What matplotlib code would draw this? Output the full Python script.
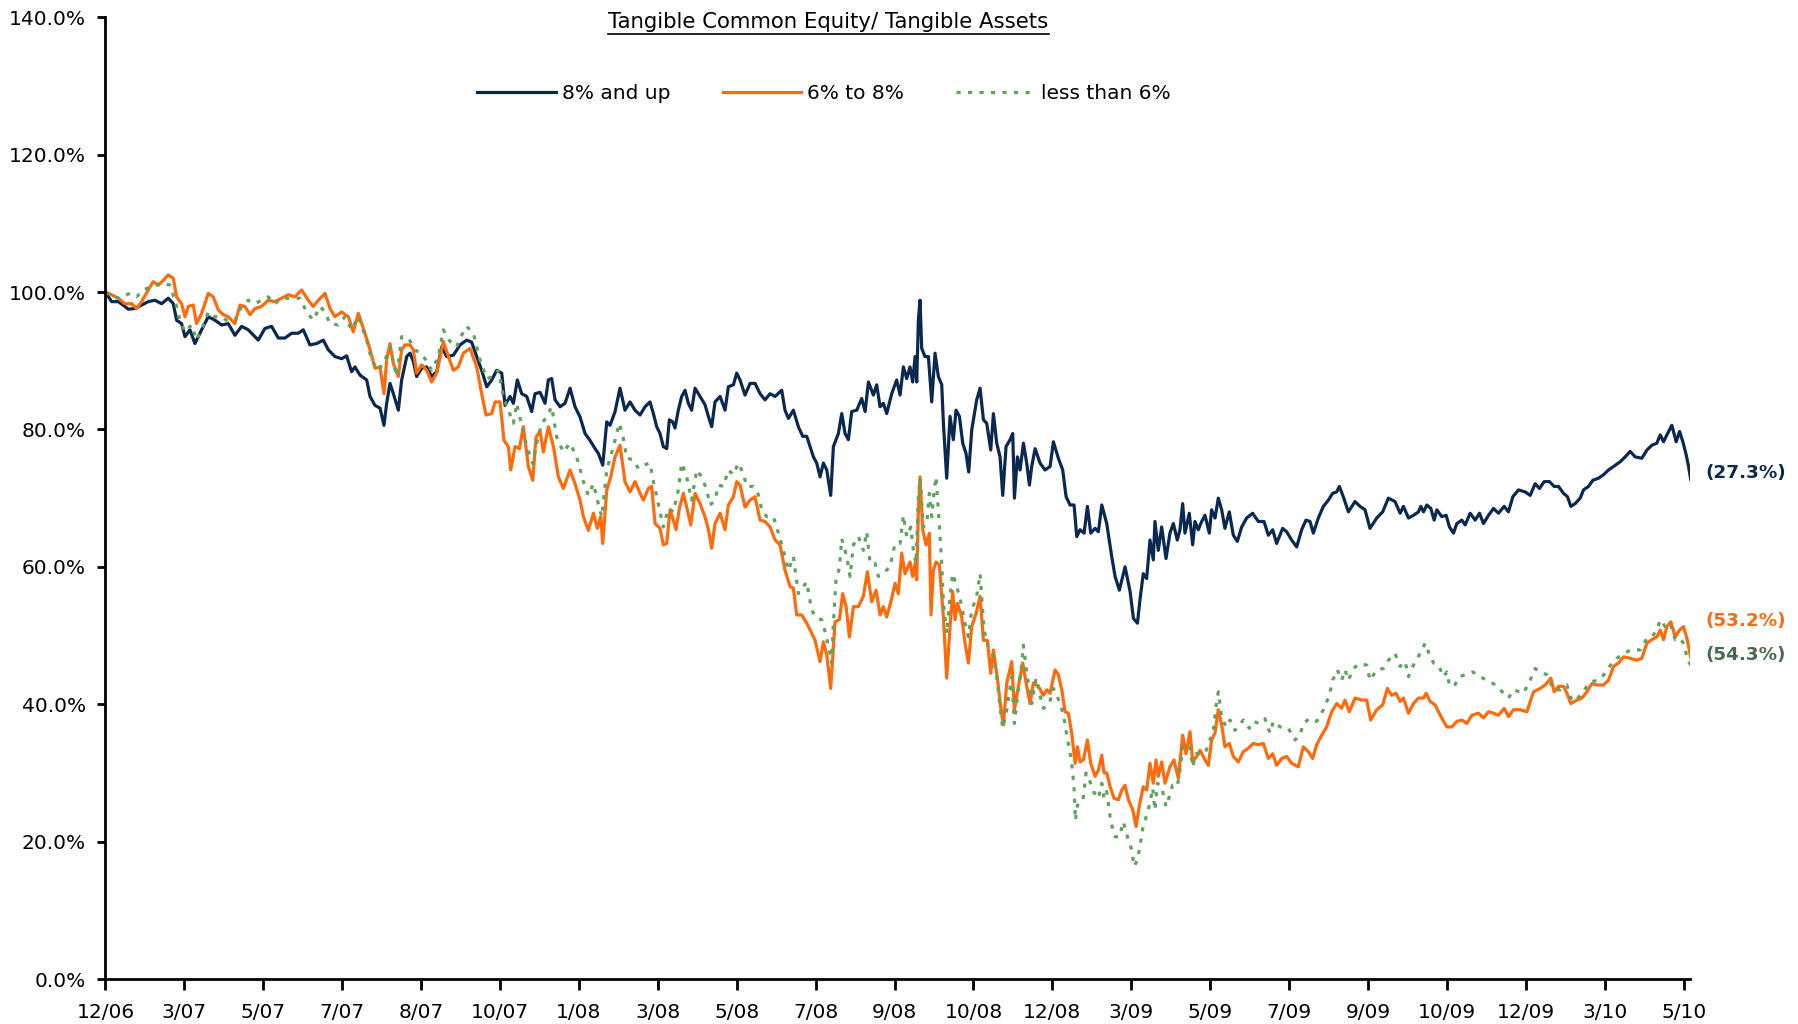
import matplotlib
matplotlib.use("Agg")
import matplotlib.pyplot as plt
from matplotlib.lines import Line2D

# x positions are in units of one axis period (12/06 = 0, 5/10 = 20)
periods = ["12/06", "3/07", "5/07", "7/07", "8/07", "10/07", "1/08", "3/08",
           "5/08", "7/08", "9/08", "10/08", "12/08", "3/09", "5/09", "7/09",
           "9/09", "10/09", "12/09", "3/10", "5/10"]

# 8% and up
t_hi = [0.000, 0.078, 0.163, 0.247, 0.289, 0.374, 0.458, 0.543, 0.627, 0.712,
        0.796, 0.860, 0.902, 0.965, 1.008, 1.071, 1.134, 1.219, 1.303, 1.388,
        1.472, 1.557, 1.641, 1.726, 1.810, 1.937, 2.021, 2.106, 2.191, 2.275,
        2.360, 2.444, 2.507, 2.592, 2.677, 2.761, 2.824, 2.909, 2.993, 3.057,
        3.120, 3.162,
        3.226, 3.311, 3.353, 3.416, 3.480, 3.530, 3.564, 3.606, 3.649, 3.712,
        3.754, 3.818, 3.860, 3.902, 3.944, 4.008, 4.071, 4.134, 4.198, 4.261,
        4.325, 4.409, 4.494, 4.578, 4.641, 4.705, 4.768, 4.832, 4.895, 4.958,
        5.022, 5.064, 5.127, 5.170, 5.220, 5.275, 5.339, 5.402, 5.444, 5.508,
        5.571, 5.613, 5.655, 5.698, 5.761, 5.824, 5.888, 5.951, 6.015, 6.078,
        6.141, 6.205, 6.247, 6.302, 6.353, 6.395, 6.458,
        6.521, 6.584, 6.648, 6.711, 6.775, 6.838, 6.901, 6.944, 6.986, 7.028,
        7.070, 7.113, 7.146, 7.189, 7.218, 7.260, 7.303, 7.345, 7.387, 7.429,
        7.472, 7.535, 7.598, 7.641, 7.683, 7.725, 7.789, 7.852, 7.894, 7.958,
        8.000, 8.042, 8.105, 8.169, 8.232, 8.296, 8.359, 8.422, 8.486, 8.570,
        8.612, 8.655, 8.718, 8.781, 8.836, 8.887, 8.929, 8.972, 9.014, 9.056,
        9.098, 9.141, 9.191, 9.225, 9.288, 9.331, 9.373, 9.415, 9.457, 9.521,
        9.584, 9.627, 9.669, 9.732, 9.774,
        9.816, 9.858, 9.901, 9.964, 10.027, 10.070, 10.112, 10.154, 10.196,
        10.230, 10.260, 10.281, 10.302, 10.323, 10.344, 10.386, 10.429, 10.471,
        10.513, 10.555, 10.598, 10.619, 10.661, 10.703, 10.745, 10.779, 10.822,
        10.864, 10.906, 10.940, 10.978, 11.041, 11.084, 11.126, 11.168, 11.219,
        11.253, 11.295, 11.337, 11.371, 11.413, 11.464, 11.498, 11.519, 11.557,
        11.591, 11.633, 11.675, 11.709, 11.738, 11.781, 11.844, 11.907, 11.971,
        12.013, 12.076, 12.131, 12.174, 12.224, 12.275, 12.309, 12.351, 12.402,
        12.444, 12.486, 12.541, 12.583, 12.626, 12.689, 12.752, 12.795, 12.849,
        12.921, 12.985, 13.027, 13.078,
        13.110, 13.152, 13.195, 13.237, 13.279, 13.300, 13.342, 13.385, 13.440,
        13.490, 13.533, 13.583, 13.617, 13.651, 13.680, 13.735, 13.778, 13.807,
        13.849, 13.892, 13.934, 13.989, 14.018, 14.061, 14.103, 14.145, 14.187,
        14.242, 14.293, 14.344, 14.399, 14.462, 14.538, 14.610, 14.682, 14.737,
        14.792, 14.842, 14.918, 14.969, 15.032, 15.096, 15.159, 15.214, 15.265,
        15.307, 15.370, 15.434, 15.497, 15.552, 15.603, 15.637, 15.687, 15.751,
        15.835, 15.899, 15.962, 16.025, 16.110, 16.186, 16.258, 16.342,
        16.407, 16.449, 16.513, 16.576, 16.639, 16.669, 16.703, 16.745, 16.796,
        16.838, 16.872, 16.935, 16.990, 17.032, 17.083, 17.125, 17.189, 17.231,
        17.294, 17.358, 17.413, 17.463, 17.527, 17.590, 17.653, 17.725, 17.780,
        17.835, 17.907, 17.991, 18.055, 18.118, 18.173, 18.232, 18.300, 18.359,
        18.414, 18.477, 18.528, 18.570, 18.625, 18.689, 18.731, 18.794, 18.849,
        18.921, 18.984, 19.048, 19.111, 19.196, 19.259, 19.322, 19.386, 19.470,
        19.534, 19.597, 19.660, 19.703, 19.745, 19.787, 19.850, 19.905, 19.948,
        19.990, 20.032, 20.062, 20.090]
v_hi = [100.0, 98.6, 98.6, 97.9, 97.5, 97.6, 98.1, 98.6, 98.8, 98.3,
        99.1, 98.3, 95.9, 95.4, 93.5, 94.5, 92.5, 94.5, 96.4, 95.9,
        95.2, 95.4, 93.7, 95.0, 94.5, 93.0, 94.7, 95.0, 93.3, 93.3,
        94.0, 94.0, 94.5, 92.3, 92.5, 93.0, 91.6, 90.6, 90.3, 90.7,
        88.4, 89.1,
        87.9, 87.2, 84.8, 83.5, 83.1, 80.6, 83.8, 86.7, 85.2, 82.8,
        87.2, 90.6, 91.1, 89.9, 87.7, 88.9, 89.1, 87.7, 88.4, 92.0,
        90.6, 90.8, 92.3, 93.0, 92.7, 90.6, 88.6, 86.2, 87.2, 88.6,
        88.2, 83.5, 84.8, 83.8, 87.2, 85.2, 84.8, 82.6, 85.2, 85.4,
        83.8, 87.2, 87.4, 84.3, 83.3, 83.8, 86.0, 83.3, 81.8, 79.4,
        78.4, 77.2, 76.5, 74.8, 81.1, 80.6, 82.6,
        86.0, 82.8, 84.0, 82.8, 82.1, 83.3, 84.0, 82.3, 80.4, 79.4,
        77.5, 77.2, 81.4, 81.1, 80.2, 82.8, 84.8, 85.7, 83.8, 82.8,
        86.0, 84.8, 83.6, 81.9, 80.4, 84.0, 84.8, 82.8, 86.2, 86.5,
        88.2, 87.2, 85.0, 86.7, 86.7, 85.2, 84.3, 85.2, 84.8, 85.7,
        82.8, 81.6, 82.8, 80.4, 79.0, 79.0, 77.5, 76.0, 75.1, 73.1,
        75.1, 74.1, 70.4, 77.5, 79.4, 82.3, 79.4, 78.5, 82.6, 82.8,
        84.5, 82.6, 86.9, 85.0, 86.5,
        83.3, 83.8, 82.3, 85.2, 87.2, 85.0, 89.1, 87.4, 89.1,
        86.9, 90.6, 86.9, 95.9, 98.8, 91.8, 90.6, 90.6, 84.0,
        91.1, 87.7, 86.5, 80.9, 72.9, 81.9, 78.5, 82.8, 81.9,
        78.0, 76.5, 73.8, 79.9, 84.3, 86.0, 81.4, 80.9, 77.0,
        82.3, 78.0, 76.0, 70.4, 77.5, 78.5, 79.4, 70.0, 76.0,
        74.1, 78.0, 75.1, 71.9, 74.6, 77.2, 75.1, 74.1, 74.6,
        78.2, 75.8, 74.1, 70.2, 69.0, 69.0, 64.4, 65.4, 64.9,
        68.8, 64.9, 65.6, 65.1, 69.0, 66.3, 61.5, 58.6, 56.6,
        60.0, 56.4, 52.5, 51.8,
        55.2, 59.0, 58.3, 63.9, 61.0, 66.6, 62.4, 65.8, 61.2,
        64.9, 66.3, 63.9, 65.4, 69.2, 64.9, 67.8, 63.2, 66.6,
        65.4, 66.6, 67.5, 64.9, 68.3, 67.1, 70.0, 68.3, 65.6,
        68.0, 64.6, 63.7, 65.8, 67.1, 67.8, 66.6, 66.6, 64.6,
        65.4, 63.4, 65.6, 65.1, 63.9, 62.9, 65.4, 66.8, 66.6,
        64.9, 67.1, 68.8, 69.7, 70.7, 70.9, 71.7, 70.2, 68.0,
        69.5, 68.8, 68.3, 65.6, 67.1, 68.0, 70.0, 69.5,
        67.8, 68.8, 67.1, 67.5, 68.0, 68.8, 68.0, 69.0, 68.5,
        66.8, 68.3, 67.3, 67.5, 65.8, 64.9, 66.3, 66.8, 66.1,
        67.8, 66.8, 67.8, 66.3, 67.5, 68.5, 67.8, 68.8, 68.0,
        70.2, 71.2, 70.9, 70.4, 72.1, 71.4, 72.4, 72.4, 71.7,
        71.7, 70.7, 70.2, 68.8, 69.2, 70.0, 71.2, 71.7, 72.6,
        72.9, 73.4, 74.1, 74.6, 75.3, 76.0, 76.8, 76.0, 75.8,
        77.0, 77.7, 78.0, 79.2, 78.2, 79.2, 80.6, 78.2, 79.7,
        78.2, 76.3, 74.6, 72.7]

# 6% to 8%
t_mid = [0.000, 0.078, 0.163, 0.247, 0.332, 0.395, 0.458, 0.543, 0.606, 0.670,
         0.733, 0.796, 0.860, 0.902, 0.965, 1.008, 1.050, 1.113, 1.155, 1.219,
         1.303, 1.366, 1.430, 1.494, 1.557, 1.641, 1.705, 1.768, 1.832, 1.895,
         1.979, 2.064, 2.148, 2.233, 2.317, 2.402, 2.486, 2.571, 2.634, 2.698,
         2.782, 2.846, 2.909, 2.993, 3.078, 3.141, 3.205,
         3.289, 3.353, 3.416, 3.480, 3.530, 3.564, 3.606, 3.649, 3.712, 3.754,
         3.796, 3.860, 3.902, 3.944, 4.008, 4.071, 4.134, 4.198, 4.282, 4.346,
         4.409, 4.472, 4.536, 4.620, 4.705, 4.768, 4.823, 4.895, 4.937, 5.001,
         5.051, 5.106, 5.136, 5.191, 5.246, 5.296, 5.360, 5.415, 5.457, 5.508,
         5.550, 5.613, 5.677, 5.740, 5.803, 5.888, 5.951, 6.015, 6.057, 6.120,
         6.184, 6.234, 6.276, 6.302, 6.353, 6.403, 6.458,
         6.521, 6.584, 6.648, 6.711, 6.775, 6.817, 6.880, 6.922, 6.965, 7.028,
         7.070, 7.113, 7.155, 7.197, 7.231, 7.273, 7.324, 7.366, 7.417, 7.472,
         7.535, 7.598, 7.641, 7.683, 7.725, 7.789, 7.852, 7.894, 7.958, 8.000,
         8.042, 8.105, 8.169, 8.232, 8.296, 8.359, 8.422, 8.486, 8.549, 8.612,
         8.676, 8.718, 8.760, 8.824, 8.887, 8.950, 8.993, 9.056, 9.098, 9.141,
         9.191, 9.246, 9.301, 9.343, 9.386, 9.428, 9.479, 9.542, 9.605, 9.656,
         9.711, 9.766,
         9.816, 9.858, 9.901, 9.964, 10.006, 10.048, 10.091, 10.133, 10.196,
         10.230, 10.260, 10.281, 10.302, 10.323, 10.357, 10.399, 10.441, 10.462,
         10.492, 10.526, 10.568, 10.619, 10.661, 10.703, 10.737, 10.767, 10.796,
         10.851, 10.893, 10.936, 10.978, 11.033, 11.084, 11.126, 11.176, 11.219,
         11.253, 11.303, 11.345, 11.379, 11.422, 11.485, 11.519, 11.557, 11.624,
         11.675, 11.717, 11.760, 11.823,
         11.886, 11.929, 11.971, 12.034, 12.076, 12.119, 12.161, 12.203, 12.245,
         12.288, 12.317, 12.351, 12.393, 12.444, 12.486, 12.541, 12.583, 12.626,
         12.655, 12.689, 12.731, 12.782, 12.837, 12.879, 12.921, 12.964, 13.019,
         13.061, 13.103,
         13.152, 13.195, 13.237, 13.279, 13.313, 13.342, 13.385, 13.427, 13.490,
         13.541, 13.596, 13.651, 13.693, 13.744, 13.778, 13.828, 13.871, 13.934,
         13.976, 14.018, 14.061, 14.103, 14.145, 14.187, 14.242, 14.293, 14.356,
         14.420, 14.483, 14.547, 14.610, 14.673, 14.737, 14.792, 14.842, 14.906,
         14.969, 15.032, 15.117, 15.180, 15.244, 15.299, 15.349, 15.413, 15.476,
         15.539, 15.603, 15.666, 15.708, 15.763, 15.835, 15.920, 15.983, 16.034,
         16.110, 16.186, 16.245, 16.300, 16.355,
         16.407, 16.449, 16.513, 16.576, 16.639, 16.703, 16.737, 16.787, 16.851,
         16.893, 16.948, 16.999, 17.062, 17.125, 17.189, 17.252, 17.315, 17.400,
         17.463, 17.527, 17.590, 17.653, 17.725, 17.780, 17.844, 17.928, 18.013,
         18.097, 18.182, 18.245, 18.317, 18.359, 18.414, 18.477, 18.520, 18.570,
         18.646, 18.710, 18.773, 18.836, 18.900, 18.984, 19.048, 19.111, 19.174,
         19.238, 19.322, 19.407, 19.470, 19.534, 19.597, 19.660, 19.703, 19.745,
         19.787, 19.838, 19.893, 19.948, 19.998, 20.041, 20.090]
v_mid = [100.0, 99.6, 99.1, 98.3, 98.3, 97.6, 98.6, 100.3, 101.5, 101.0,
         101.7, 102.5, 102.0, 99.3, 98.3, 96.4, 97.9, 98.1, 95.4, 96.9,
         99.8, 99.3, 97.4, 96.7, 96.4, 95.4, 98.1, 97.9, 96.7, 97.6,
         97.9, 98.8, 98.6, 99.1, 99.6, 99.3, 100.3, 98.8, 97.9, 98.8,
         99.8, 97.6, 96.4, 97.1, 96.4, 94.2, 96.9,
         94.0, 91.6, 88.9, 89.1, 85.2, 90.1, 92.5, 89.6, 87.7, 91.6,
         92.3, 92.3, 91.6, 88.2, 89.4, 88.6, 86.9, 88.2, 92.8, 90.6,
         88.6, 89.1, 91.1, 91.8, 89.1, 85.2, 82.1, 82.3, 84.0, 84.0,
         78.4, 77.5, 74.1, 77.5, 77.2, 80.4, 74.6, 72.6, 78.9, 79.7,
         76.7, 80.4, 77.5, 73.1, 71.4, 74.1, 72.1, 69.7, 67.3, 65.3,
         67.8, 65.6, 67.3, 63.4, 71.2, 73.1, 76.0,
         77.7, 72.4, 70.9, 72.4, 70.7, 69.7, 71.4, 71.7, 66.3, 65.6,
         63.2, 63.4, 68.3, 66.8, 65.4, 68.5, 70.7, 68.7, 66.1, 70.7,
         69.2, 67.3, 65.4, 62.7, 66.3, 67.8, 65.4, 69.0, 70.2, 72.4,
         71.9, 68.7, 69.7, 70.2, 66.8, 66.6, 65.8, 63.9, 63.2, 59.5,
         57.1, 56.9, 53.0, 53.0, 51.8, 50.3, 49.3, 46.2, 49.1, 47.2,
         42.3, 52.0, 52.3, 56.1, 54.2, 49.8, 54.2, 54.2, 55.7, 59.3,
         54.9, 56.6,
         53.0, 54.2, 52.7, 55.4, 57.6, 56.1, 62.0, 59.0, 60.7,
         58.6, 60.5, 58.1, 68.3, 73.1, 65.4, 63.2, 64.9, 53.0,
         59.5, 60.7, 60.3, 52.7, 43.8, 51.3, 56.4, 52.3, 54.7,
         52.7, 48.9, 46.0, 51.3, 53.2, 55.7, 49.3, 49.3, 44.5,
         47.9, 43.8, 39.6, 37.0, 43.1, 46.2, 39.2, 41.8, 46.0,
         42.6, 40.1, 43.1, 42.6,
         41.3, 42.1, 41.6, 45.0, 44.3, 42.1, 38.9, 38.7, 35.8,
         31.4, 33.8, 31.6, 31.9, 34.8, 31.4, 29.5, 30.4, 32.6,
         30.0, 30.0, 28.0, 26.3, 26.1, 27.5, 28.2, 26.1, 24.6,
         22.2, 25.3,
         28.0, 27.5, 31.4, 28.5, 31.9, 29.5, 31.6, 28.5, 30.9,
         31.9, 29.2, 35.5, 32.8, 36.0, 31.6, 32.4, 33.3, 31.9,
         31.1, 34.8, 35.8, 39.2, 37.0, 33.8, 34.3, 32.4, 31.6,
         33.1, 33.6, 34.3, 34.1, 34.3, 32.1, 32.8, 31.1, 32.1,
         32.4, 31.4, 30.9, 33.8, 33.1, 32.1, 34.1, 35.5, 36.7,
         38.9, 40.1, 39.4, 40.6, 38.9, 40.9, 40.6, 40.6, 37.7,
         39.2, 39.9, 42.3, 41.3, 41.6,
         40.4, 40.9, 38.7, 40.1, 40.9, 40.9, 41.6, 40.4, 39.9,
         38.9, 37.7, 36.7, 36.7, 37.5, 37.7, 37.2, 38.4, 38.7,
         38.0, 38.9, 38.7, 38.4, 39.4, 38.2, 39.2, 39.2, 38.9,
         41.8, 42.3, 42.8, 43.8, 41.8, 42.6, 42.6, 41.6, 40.1,
         40.6, 40.9, 41.8, 43.0, 42.8, 42.8, 43.5, 45.5, 46.0,
         46.9, 46.7, 46.4, 46.7, 48.9, 49.4, 49.8, 50.8, 49.4,
         51.3, 52.0, 49.8, 50.8, 51.3, 49.6, 46.8]

# less than 6%
t_lo = [0.000, 0.120, 0.205, 0.311, 0.395, 0.480, 0.586, 0.712, 0.818, 0.881,
        0.944, 1.008, 1.092, 1.155, 1.219, 1.303, 1.388, 1.472, 1.557, 1.641,
        1.726, 1.810, 1.895, 1.979, 2.064, 2.148, 2.233, 2.360, 2.465, 2.550,
        2.634, 2.719, 2.782, 2.846, 2.951, 3.035, 3.120, 3.205,
        3.311, 3.374, 3.458, 3.543, 3.606, 3.691, 3.754, 3.839, 3.923, 3.987,
        4.050, 4.134, 4.219, 4.282, 4.367, 4.451, 4.494, 4.578, 4.663, 4.747,
        4.832, 4.916, 4.979, 5.043, 5.106, 5.170, 5.212, 5.254, 5.339, 5.415,
        5.465, 5.529, 5.592, 5.655, 5.719, 5.803, 5.888, 5.972, 6.057, 6.120,
        6.184, 6.234, 6.289, 6.353, 6.437, 6.513,
        6.563, 6.606, 6.690, 6.753, 6.817, 6.901, 6.944, 6.986, 7.028, 7.070,
        7.134, 7.197, 7.260, 7.303, 7.366, 7.429, 7.493, 7.556, 7.620, 7.662,
        7.725, 7.767, 7.831, 7.894, 7.958, 8.021, 8.084, 8.127, 8.211, 8.274,
        8.317, 8.380, 8.465, 8.528, 8.591, 8.655, 8.718, 8.781, 8.887, 8.950,
        9.014, 9.077, 9.119, 9.174, 9.204, 9.225, 9.259, 9.301, 9.331, 9.394,
        9.436, 9.479, 9.542, 9.605, 9.648, 9.690, 9.753, 9.795,
        9.879, 9.943, 10.006, 10.070, 10.112, 10.154, 10.205, 10.239, 10.272,
        10.302, 10.323, 10.365, 10.408, 10.441, 10.471, 10.500, 10.526, 10.555,
        10.577, 10.598, 10.619, 10.661, 10.703, 10.737, 10.788, 10.830, 10.893,
        10.936, 10.978, 11.041, 11.084, 11.134, 11.189, 11.253, 11.295, 11.337,
        11.371, 11.422, 11.485, 11.519, 11.557, 11.599, 11.633, 11.675, 11.738,
        11.793,
        11.844, 11.886, 11.962, 12.013, 12.055, 12.106, 12.148, 12.182, 12.233,
        12.258, 12.275, 12.292, 12.317, 12.385, 12.427, 12.469, 12.520, 12.583,
        12.626, 12.655, 12.689, 12.740, 12.795, 12.850, 12.900, 12.951, 13.006,
        13.035, 13.078, 13.112, 13.145, 13.188,
        13.237, 13.271, 13.300, 13.330, 13.385, 13.440, 13.469, 13.524, 13.583,
        13.617, 13.651, 13.702, 13.752, 13.778, 13.820, 13.871, 13.934, 13.997,
        14.040, 14.073, 14.103, 14.145, 14.200, 14.251, 14.314, 14.369, 14.420,
        14.496, 14.547, 14.623, 14.694, 14.758, 14.800, 14.885, 14.990, 15.075,
        15.138, 15.180, 15.256, 15.349, 15.434, 15.510, 15.552, 15.611, 15.666,
        15.708, 15.751, 15.814, 15.890, 15.983, 16.025, 16.110, 16.194, 16.258,
        16.342,
        16.407, 16.470, 16.513, 16.576, 16.661, 16.724, 16.766, 16.830, 16.893,
        16.956, 16.999, 17.032, 17.091, 17.159, 17.231, 17.328, 17.421, 17.505,
        17.590, 17.675, 17.780, 17.844, 17.970, 18.055, 18.118, 18.182, 18.266,
        18.351, 18.435, 18.520, 18.570, 18.625, 18.710, 18.773, 18.836, 18.921,
        19.005, 19.090, 19.153, 19.229, 19.322, 19.449, 19.534, 19.597, 19.660,
        19.703, 19.766, 19.829, 19.893, 19.956, 20.007, 20.049, 20.090]
v_lo = [100.0, 99.1, 99.3, 99.8, 99.3, 100.3, 100.8, 101.3, 101.0, 98.8,
        95.9, 94.2, 95.2, 93.0, 94.5, 97.1, 96.4, 96.4, 95.7, 95.9,
        97.9, 98.8, 98.3, 98.8, 99.3, 98.3, 99.1, 99.1, 99.1, 97.1,
        95.9, 97.9, 97.1, 95.4, 95.2, 96.4, 94.5, 96.4,
        93.0, 90.1, 88.6, 90.1, 92.0, 87.7, 93.5, 93.3, 91.6, 91.1,
        90.3, 88.6, 90.6, 94.5, 92.8, 92.0, 93.3, 95.0, 94.0, 90.1,
        87.4, 87.7, 88.6, 84.8, 82.8, 80.9, 83.8, 81.6, 77.5, 75.0,
        78.0, 80.9, 81.8, 83.3, 78.9, 76.7, 78.0, 76.0, 72.4, 70.4,
        72.1, 69.7, 67.3, 74.1, 77.5, 80.9,
        78.7, 75.8, 75.6, 74.3, 74.8, 75.1, 72.4, 70.2, 68.0, 65.8,
        68.5, 68.0, 71.2, 75.1, 73.1, 69.7, 74.1, 73.1, 71.2, 69.0,
        69.7, 71.9, 71.7, 74.1, 73.4, 75.1, 73.6, 71.7, 71.7, 70.5,
        68.3, 67.3, 67.3, 64.9, 62.4, 59.5, 61.5, 56.1, 57.8, 53.7,
        52.5, 52.3, 50.6, 47.9, 46.0, 51.8, 58.3, 59.8, 64.1, 61.5,
        58.6, 63.2, 64.4, 62.4, 65.1, 60.5, 60.5, 58.6,
        59.3, 60.0, 63.4, 63.4, 67.5, 64.4, 65.8, 62.4, 60.5,
        70.2, 72.9, 65.8, 66.3, 70.7, 67.3, 70.9, 73.1, 68.3,
        64.4, 60.5, 54.7, 50.3, 55.7, 59.0, 57.1, 55.4, 51.8,
        49.8, 53.7, 55.7, 59.0, 50.8, 48.4, 46.9, 44.0, 39.6,
        36.5, 39.2, 44.0, 37.2, 41.1, 44.5, 48.6, 44.5, 40.1,
        43.8,
        41.3, 39.4, 40.1, 42.3, 41.3, 39.9, 38.0, 35.5, 32.4,
        30.0, 27.8, 23.1, 25.3, 25.8, 30.0, 29.0, 27.3, 26.3,
        28.5, 26.3, 27.3, 22.9, 20.7, 20.7, 22.9, 20.7, 18.8,
        16.4, 17.3, 19.5, 21.9, 23.6,
        25.6, 27.8, 24.6, 28.5, 28.0, 25.1, 26.1, 28.2, 28.0,
        30.4, 33.8, 34.3, 33.3, 30.9, 32.8, 32.8, 32.8, 34.8,
        36.2, 39.6, 41.8, 38.2, 36.7, 37.7, 36.2, 37.0, 37.7,
        36.5, 37.5, 37.2, 37.9, 35.8, 37.5, 36.7, 36.5, 34.8,
        35.5, 37.2, 37.9, 37.5, 39.2, 41.3, 43.5, 45.0, 43.5,
        45.0, 43.5, 45.2, 45.9, 45.7, 43.5, 45.0, 45.2, 46.4,
        47.4,
        45.5, 46.2, 44.0, 45.7, 47.4, 48.9, 47.6, 46.0, 45.7,
        44.0, 44.7, 42.8, 42.6, 44.0, 44.3, 44.7, 44.0, 43.5,
        43.0, 42.1, 40.9, 42.1, 41.6, 43.5, 45.2, 44.7, 44.3,
        42.1, 42.1, 42.8, 40.9, 40.4, 41.6, 42.6, 43.3, 43.5,
        44.5, 46.0, 46.7, 47.2, 47.9, 47.9, 49.6, 49.8, 50.8,
        52.3, 51.3, 51.8, 49.4, 49.6, 48.7, 46.4, 45.7]

NAVY = "#0b2850"
ORANGE = "#ff6a0d"
GREEN = "#5fa35c"
GREEN_TXT = "#476b4c"

plt.rcParams["font.family"] = "DejaVu Sans"
plt.rcParams["font.size"] = 14.5

fig = plt.figure(figsize=(17.99, 10.24), dpi=100)
ax = fig.add_axes([0.0586, 0.0439, 0.8808, 0.9393])

ln_hi, = ax.plot(t_hi, v_hi, color=NAVY, lw=2.3, label="8% and up")
ln_mid, = ax.plot(t_mid, v_mid, color=ORANGE, lw=2.3, label="6% to 8%")
ln_lo, = ax.plot(t_lo, v_lo, color=GREEN, lw=2.3, linestyle=(0, (1.3, 2.3)),
                 label="less than 6%")

ax.set_xlim(0, 20.08)
ax.set_ylim(0, 140)
ax.set_xticks(range(len(periods)))
ax.set_xticklabels(periods)
ax.set_yticks(range(0, 141, 20))
ax.set_yticklabels(["{:.1f}%".format(v) for v in range(0, 141, 20)])

for side in ["top", "right"]:
    ax.spines[side].set_visible(False)
for side in ["left", "bottom"]:
    ax.spines[side].set_linewidth(2.0)
    ax.spines[side].set_color("black")
ax.tick_params(axis="y", direction="out", length=6, width=2, pad=8)
ax.tick_params(axis="x", direction="out", length=8, width=2, pad=9)

# change since start, shown at the right end of each line
ends = [(v_hi[-1], 73.6, NAVY), (v_mid[-1], 52.1, ORANGE), (v_lo[-1], 47.2, GREEN_TXT)]
for last, ypos, col in ends:
    ax.text(20.27, ypos, "({:.1f}%)".format(100 - last), color=col,
            fontsize=13.2, fontweight="bold", va="center", ha="left",
            clip_on=False)

fig.legend(handles=[ln_hi, ln_mid, ln_lo], loc="center", ncol=3,
           bbox_to_anchor=(0.458, 0.909), frameon=False, handlelength=3.9,
           handletextpad=0.3, columnspacing=2.6, fontsize=14.5)

title = fig.text(0.4605, 0.979, "Tangible Common Equity/ Tangible Assets",
                 ha="center", va="center", fontsize=15.3)
fig.canvas.draw()
bb = title.get_window_extent(renderer=fig.canvas.get_renderer())
W, H = fig.bbox.width, fig.bbox.height
uy = (bb.y0 - 2) / H
fig.add_artist(Line2D([bb.x0 / W, bb.x1 / W], [uy, uy], color="black", lw=1.2))

fig.savefig("out.png", dpi=100)
